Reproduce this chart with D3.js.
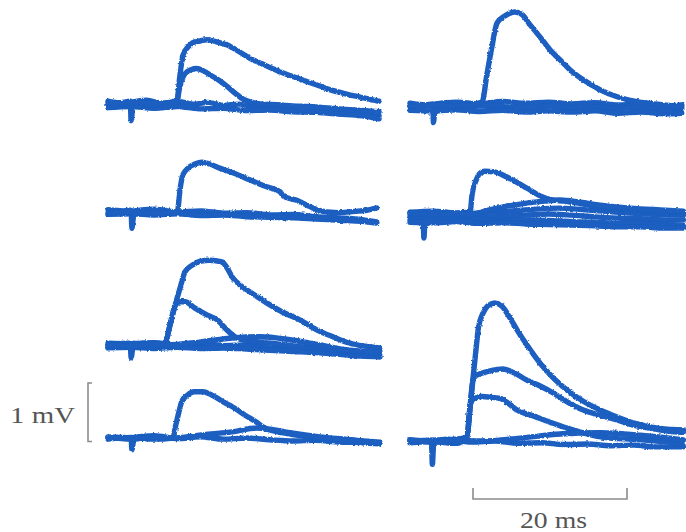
<!DOCTYPE html>
<html><head><meta charset="utf-8">
<script src="https://cdn.jsdelivr.net/npm/d3@7"></script>
<style>html,body{margin:0;padding:0;background:#fff;}svg{display:block;}</style>
</head><body>
<script>
// ---- DATA: each trace is a list of [time (ms), potential (mV)] ----
const panelA = [
  [[0,0.03],[1.5,0.0],[2.9,0.03],[3.0,-0.3],[3.3,0.02],[5,0.05],[7,-0.01],[9,0.03],[11,-0.02],[13,0.01],[15,-0.04],[17,-0.02],[19,-0.07],[21,-0.04],[23,-0.09],[25,-0.07],[27,-0.11],[29,-0.1],[31,-0.14],[33,-0.15],[35.2,-0.22]],
  [[0,-0.08],[3,-0.06],[6,-0.09],[9,-0.06],[12,-0.1],[15,-0.09],[18,-0.13],[21,-0.12],[24,-0.15],[27,-0.16],[30,-0.19],[33,-0.22],[35.2,-0.27]],
  [[0,-0.04],[2,-0.02],[4,-0.05],[6,-0.01],[8.9,0.0],[9.35,0.48],[9.75,0.82],[10.4,0.96],[11.0,1.03],[11.9,1.06],[12.9,1.08],[14.0,1.05],[15.5,0.99],[17,0.88],[18.5,0.76],[20,0.67],[21.5,0.58],[23,0.5],[24.5,0.43],[26,0.36],[27.5,0.29],[29,0.22],[30.5,0.17],[32,0.12],[33.5,0.08],[35.2,0.03]],
  [[0,0.0],[3,0.01],[6,-0.01],[8.9,0.01],[9.35,0.3],[10,0.5],[10.8,0.57],[11.5,0.59],[12.4,0.55],[13.4,0.47],[14.5,0.38],[15.5,0.28],[16.5,0.17],[17.5,0.07],[18.5,0.02],[20,-0.02],[22,-0.03],[24,-0.05],[26,-0.06],[28,-0.08],[30,-0.1],[32,-0.12],[35.2,-0.15]]
];
const panelB = [
  [[0,0.03],[2,0.0],[2.95,0.02],[3.05,-0.3],[3.3,0.02],[6,0.05],[9,0.02],[12,0.06],[15,0.03],[18,0.05],[21,0.02],[24,0.04],[27,0.0],[30,0.02],[33,-0.02],[35.3,0.0]],
  [[0,-0.03],[3,-0.01],[6,-0.04],[9,-0.02],[12,-0.03],[15,-0.05],[18,-0.02],[21,-0.05],[24,-0.03],[27,-0.06],[30,-0.04],[33,-0.07],[35.3,-0.06]],
  [[0,-0.09],[3,-0.1],[6,-0.08],[9,-0.11],[12,-0.09],[15,-0.12],[18,-0.1],[21,-0.12],[24,-0.1],[27,-0.14],[30,-0.12],[33,-0.15],[35.3,-0.14]],
  [[0,-0.02],[3,0.0],[6,-0.02],[9.35,0.05],[10.0,0.53],[10.6,0.97],[11.3,1.4],[12.3,1.52],[13.6,1.59],[14.5,1.55],[15.6,1.37],[16.9,1.16],[18.2,0.94],[19.5,0.77],[20.8,0.6],[22.5,0.43],[24.7,0.26],[26.9,0.14],[28.6,0.08],[31,0.03],[33,0.0],[35.3,-0.03]]
];
const panelC = [
  [[0,0.04],[2,0.02],[3.0,0.03],[3.1,-0.28],[3.4,0.02],[6,0.05],[9,0.0],[12,0.02],[15,-0.02],[18,-0.01],[21,-0.05],[24,-0.04],[27,-0.08],[30,-0.1],[33,-0.13],[34.9,-0.17]],
  [[0,-0.04],[3,-0.03],[6,-0.05],[9,-0.03],[12,-0.06],[15,-0.05],[18,-0.08],[21,-0.09],[24,-0.1],[27,-0.12],[30,-0.14],[33,-0.16],[34.9,-0.19]],
  [[0,-0.02],[3,0.0],[6,-0.03],[9.0,0.0],[9.35,0.38],[9.7,0.63],[10.4,0.75],[11.3,0.82],[12.2,0.85],[13.2,0.82],[14.5,0.75],[16.2,0.67],[18.4,0.55],[20.6,0.43],[22.3,0.35],[22.8,0.27],[24.5,0.2],[25.8,0.12],[27.1,0.04],[28.5,0.0],[30.1,-0.01],[32,0.01],[33.6,0.03],[34.9,0.07]]
];
const panelD = [
  [[0,0.0],[1.7,0.02],[1.8,-0.41],[2.0,0.0],[4,0.03],[7,0.0],[10,0.03],[13,0.05],[16,0.08],[19.5,0.1],[22,0.08],[25,0.05],[28,0.02],[31,0.0],[35.5,-0.02]],
  [[0,-0.04],[3,-0.05],[6,-0.03],[9,-0.06],[12,-0.04],[15,-0.02],[18,0.0],[21,-0.02],[24,-0.05],[27,-0.07],[30,-0.08],[33,-0.1],[35.5,-0.1]],
  [[0,-0.1],[3,-0.08],[6,-0.11],[9,-0.09],[12,-0.12],[15,-0.1],[18,-0.11],[21,-0.13],[24,-0.14],[27,-0.16],[30,-0.16],[33,-0.18],[35.5,-0.19]],
  [[0,-0.14],[3,-0.15],[6,-0.13],[9,-0.16],[12,-0.15],[15,-0.17],[18,-0.18],[21,-0.19],[24,-0.2],[27,-0.22],[30,-0.22],[33,-0.24],[35.5,-0.24]],
  [[0,0.03],[3,0.05],[6,0.02],[7.8,0.03],[8.05,0.32],[8.6,0.58],[9.1,0.7],[9.7,0.73],[11.0,0.72],[12.3,0.65],[13.6,0.56],[15.2,0.44],[16.9,0.31],[18.5,0.24],[20,0.22],[22,0.18],[24.7,0.12],[28,0.08],[31,0.05],[35.5,0.03]],
  [[0,0.02],[3,-0.01],[6,0.01],[7.8,-0.01],[10,0.06],[11.7,0.11],[14.3,0.17],[17.5,0.22],[19.5,0.24],[22.1,0.2],[24.7,0.15],[28.6,0.1],[32.5,0.07],[35.5,0.05]]
];
const panelE = [
  [[0,0.03],[2.9,0.01],[3.0,-0.22],[3.3,0.02],[6,0.04],[9,0.0],[12,0.03],[15,-0.01],[18,0.0],[21,-0.05],[24,-0.07],[27,-0.1],[30,-0.13],[33,-0.17],[35.3,-0.2]],
  [[0,-0.05],[3,-0.04],[6,-0.06],[9,-0.04],[12,-0.06],[15,-0.05],[18,-0.07],[21,-0.09],[24,-0.11],[27,-0.13],[30,-0.16],[33,-0.19],[35.3,-0.2]],
  [[0,-0.02],[3,0.0],[6,-0.03],[7.4,0.03],[8.05,0.34],[8.7,0.67],[9.35,0.97],[10,1.25],[10.9,1.36],[11.9,1.43],[13.2,1.45],[14.8,1.42],[15.4,1.33],[16.2,1.15],[17.1,1.03],[18.4,0.91],[20.6,0.72],[22.7,0.56],[24.9,0.43],[27.1,0.26],[29.2,0.14],[31.4,0.03],[33.4,-0.02],[35.3,-0.05]],
  [[0,0.01],[3,0.03],[6,0.0],[7.4,0.03],[8.05,0.34],[8.7,0.67],[9.35,0.74],[10,0.74],[11.3,0.63],[12.9,0.51],[14.2,0.43],[15.2,0.29],[16.2,0.17],[17.1,0.1],[19,0.06],[22,0.02],[25,-0.03],[28,-0.06],[31,-0.1],[35.3,-0.14]],
  [[0,0.0],[3,-0.02],[6,0.01],[7.6,0.0],[11.9,0.05],[16.2,0.12],[19.7,0.14],[23.6,0.09],[27.5,0.0],[31.4,-0.09],[35.3,-0.12]]
];
const panelF = [
  [[0,0.02],[3.0,0.0],[3.1,-0.2],[3.4,0.01],[6,0.04],[9,-0.01],[12,0.02],[15,-0.02],[18,0.0],[21,-0.03],[24,-0.05],[27,-0.04],[30,-0.07],[33,-0.08],[35.3,-0.1]],
  [[0,-0.02],[3,0.01],[6,-0.02],[8.4,0.0],[8.8,0.22],[9.2,0.44],[9.6,0.63],[10.3,0.73],[11.2,0.79],[12.3,0.79],[13.4,0.74],[15.2,0.6],[16.2,0.53],[17.8,0.39],[19.4,0.26],[20.1,0.19],[22.3,0.1],[25,0.04],[28,0.0],[31,-0.03],[35.3,-0.07]],
  [[0,0.01],[3,-0.02],[6,0.02],[8.4,0.0],[11.9,0.05],[15.8,0.1],[19.4,0.17],[21,0.15],[23.6,0.09],[27.5,0.02],[31.4,-0.03],[35.3,-0.09]]
];
const panelG = [
  [[0,0.01],[2.8,0.0],[2.9,-0.4],[3.1,0.0],[5,0.03],[8,-0.02],[11,0.0],[14,-0.04],[17,-0.03],[20,-0.06],[23,-0.05],[26,-0.08],[29,-0.07],[32,-0.1],[35.5,-0.1]],
  [[0,-0.03],[3,-0.01],[6,-0.04],[7.4,0.07],[7.8,0.58],[8.2,1.09],[8.6,1.6],[8.9,1.95],[9.5,2.19],[10.1,2.31],[11.0,2.36],[11.9,2.31],[13.0,2.1],[13.9,1.9],[15.3,1.62],[16.9,1.33],[18.6,1.08],[20.4,0.87],[22.5,0.68],[24.7,0.53],[26.9,0.41],[29.0,0.31],[31.2,0.24],[33.4,0.2],[35.5,0.19]],
  [[0,0.02],[3,0.0],[6,0.03],[7.4,0.07],[7.8,0.58],[8.2,1.06],[8.6,1.12],[9.1,1.15],[10.4,1.2],[12.1,1.23],[13.6,1.16],[15.2,1.04],[16.9,0.94],[18.6,0.82],[20.4,0.67],[22.5,0.53],[24.7,0.44],[26.9,0.36],[29.0,0.27],[31.2,0.22],[33.4,0.17],[35.5,0.15]],
  [[0,-0.01],[3,0.02],[6,-0.01],[7.4,0.07],[7.8,0.58],[8.1,0.7],[8.6,0.74],[9.35,0.76],[10.4,0.75],[11.7,0.73],[13.0,0.62],[13.9,0.53],[16.0,0.43],[18.2,0.32],[20.4,0.22],[22.5,0.14],[24,0.09],[26,0.05],[29,0.03],[32,0.0],[35.5,-0.04]],
  [[0,0.02],[3,-0.02],[6,0.01],[9.5,0.0],[14.3,0.05],[19.5,0.12],[24.7,0.14],[29.9,0.1],[35.5,0.02]]
];
const scaleBarMV = [1];
const scaleBarMS = [20];
const scaleLabels = ["1 mV", "20 ms"];

// ---- LAYOUT ----
const W = 686, H = 532;
const pxPerMs = 7.7, pxPerMV = 58.5, spanMs = 36;
const colX = [108, 410];
const panels = [
  {data: panelA, col: 0, base: 103},
  {data: panelB, col: 1, base: 105},
  {data: panelC, col: 0, base: 212},
  {data: panelD, col: 1, base: 214},
  {data: panelE, col: 0, base: 345},
  {data: panelF, col: 0, base: 438},
  {data: panelG, col: 1, base: 441}
];
const traceColor = "#1a5ec0";

const svg = d3.select("body").append("svg").attr("width", W).attr("height", H);
svg.append("rect").attr("width", W).attr("height", H).attr("fill", "#fff");

const defs = svg.append("defs");
const f = defs.append("filter").attr("id", "rough").attr("filterUnits", "userSpaceOnUse")
  .attr("x", 0).attr("y", 0).attr("width", W).attr("height", H);
f.append("feTurbulence").attr("type", "fractalNoise").attr("baseFrequency", 0.45)
  .attr("numOctaves", 2).attr("seed", 4).attr("result", "noise");
f.append("feDisplacementMap").attr("in", "SourceGraphic").attr("in2", "noise")
  .attr("scale", 2.6).attr("xChannelSelector", "R").attr("yChannelSelector", "G");

const gTr = svg.append("g").attr("filter", "url(#rough)");
panels.forEach(p => {
  const x = d3.scaleLinear().domain([0, spanMs]).range([colX[p.col], colX[p.col] + spanMs * pxPerMs]);
  const y = d3.scaleLinear().domain([0, 1]).range([p.base, p.base - pxPerMV]);
  const line = d3.line().x(d => x(d[0])).y(d => y(d[1])).curve(d3.curveMonotoneX);
  gTr.selectAll(null).data(p.data).enter().append("path")
    .attr("d", line).attr("fill", "none").attr("stroke", traceColor)
    .attr("stroke-width", 5.4).attr("stroke-linejoin", "round").attr("stroke-linecap", "round");
});

// ---- scale bars ----
const mv = d3.scaleLinear().domain([0, 1]).range([0, pxPerMV]);
const ms = d3.scaleLinear().domain([0, 1]).range([0, pxPerMs]);
const barTop = 383, barX = 88;
svg.append("path")
  .attr("d", `M${barX + 4},${barTop}H${barX}V${barTop + mv(scaleBarMV[0])}H${barX + 4}`)
  .attr("fill", "none").attr("stroke", "#8c8c8c").attr("stroke-width", 1.6);
const hx = 473, hy = 499;
svg.append("path")
  .attr("d", `M${hx},${hy - 11}V${hy}H${hx + ms(scaleBarMS[0])}V${hy - 11}`)
  .attr("fill", "none").attr("stroke", "#8c8c8c").attr("stroke-width", 1.6);
svg.append("text").attr("x", 10).attr("y", 423).text(scaleLabels[0])
  .attr("font-family", "Liberation Serif, serif").attr("font-size", 23).attr("fill", "#555")
  .attr("textLength", 65).attr("lengthAdjust", "spacingAndGlyphs");
svg.append("text").attr("x", 520).attr("y", 528).text(scaleLabels[1])
  .attr("font-family", "Liberation Serif, serif").attr("font-size", 24).attr("fill", "#555")
  .attr("textLength", 67).attr("lengthAdjust", "spacingAndGlyphs");
</script>
</body></html>
